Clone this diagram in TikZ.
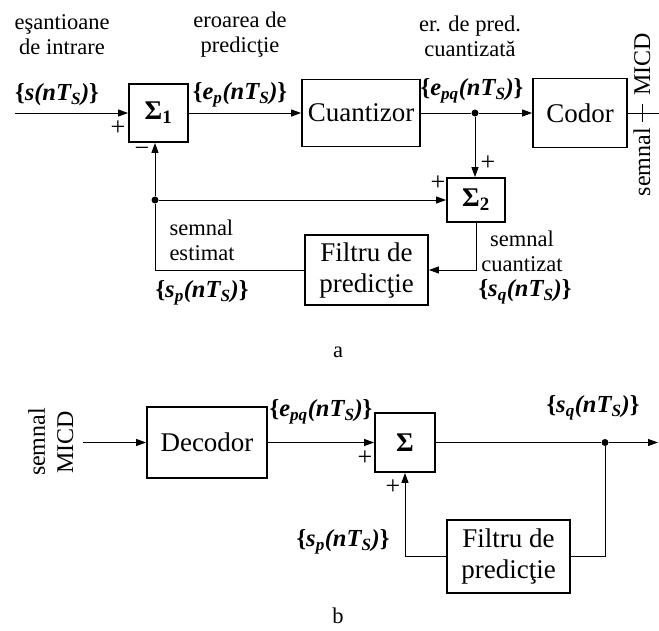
\documentclass[tikz,border=0pt]{standalone}
\usepackage{fontspec}
\setmainfont{Liberation Serif}
\usetikzlibrary{arrows.meta}
\newcommand\lab[1]{\textbf{\{\textit{#1}\}}}
\begin{document}
\begin{tikzpicture}[x=1pt,y=-1pt,
  blk/.style={draw,line width=1.8pt,inner sep=0pt,font=\fontsize{27}{31}\selectfont,align=center},
  sumblk/.style={blk,font=\fontsize{27}{31}\selectfont\bfseries},
  lbl/.style={font=\fontsize{22.5}{25}\selectfont,inner sep=0pt,align=center},
  mlbl/.style={font=\fontsize{24.5}{28}\selectfont,inner sep=0pt},
  sgn/.style={font=\fontsize{26}{28}\selectfont,inner sep=0pt},
  rot/.style={rotate=90,font=\fontsize{24}{28}\selectfont,inner sep=0pt},
  conn/.style={line width=1pt,-{Triangle[length=10pt,width=7pt]}},
  wire/.style={line width=1pt},
  dot/.style={circle,fill,inner sep=0pt,minimum size=7pt},
]
\useasboundingbox (0,0) rectangle (659,630);

% ---------- part a ----------
\node[sumblk,minimum width=59pt,minimum height=58pt] (S1) at (158.5,113) {Σ\textsubscript{1}};
\node[blk,minimum width=118pt,minimum height=67pt] (Q) at (361,113) {Cuantizor};
\node[blk,minimum width=94pt,minimum height=69pt] (C) at (580,113) {Codor};
\node[sumblk,minimum width=58pt,minimum height=44pt] (S2) at (476,200) {Σ\textsubscript{2}};
\node[blk,minimum width=123pt,minimum height=70pt] (F1) at (366.5,270) {Filtru de\\predicţie};
\node[dot] (d1) at (475,113) {};
\node[dot] (d2) at (155,200) {};
\coordinate (in) at (15,113);
\coordinate (out) at (659,113);
\coordinate (t1) at (642,104);
\coordinate (t2) at (642,122);

\draw[conn] (in) -- (S1.west);
\draw[conn] (S1.east) -- (Q.west);
\draw[wire] (Q.east) -- (d1);
\draw[conn] (d1) -- (C.west);
\draw[wire] (C.east) -- (out);
\draw[conn] (d1) -- (d1 |- S2.north);
\draw[conn] (d2) -- (S2.west);
\draw[conn,line width=0.8pt] (S2.south) |- (F1.east);
\draw[wire,line width=0.8pt] (F1.west) -| (d2);
\draw[conn] (d2) -- (d2 |- S1.south);
\draw[wire,line width=0.8pt] (t1) -- (t2);

\node[lbl] (l1) at (62,34.5) {eşantioane\\de intrare};
\node[lbl] (l2) at (240,34.5) {eroarea de\\predicţie};
\node[lbl] (l3) at (470,36) {er. de pred.\\cuantizată};
\node[mlbl] (m1) at (57,95) {\lab{s(nT\textsubscript{S})}};
\node[mlbl] (m2) at (240,95) {\lab{e\textsubscript{p}(nT\textsubscript{S})}};
\node[mlbl] (m3) at (472,91) {\lab{e\textsubscript{pq}(nT\textsubscript{S})}};
\node[sgn] (p1) at (118,128) {+};
\node[sgn] (n1) at (142,152) {−};
\node[sgn] (p2) at (488,163) {+};
\node[sgn] (p3) at (438,183) {+};
\node[lbl,align=left] (l4) at (202,240) {semnal\\estimat};
\node[mlbl] (m4) at (202,293) {\lab{s\textsubscript{p}(nT\textsubscript{S})}};
\node[lbl] (l5) at (522,251) {semnal\\cuantizat};
\node[mlbl] (m5) at (525,292) {\lab{s\textsubscript{q}(nT\textsubscript{S})}};
\node[rot,anchor=base west] (r1) at (650,96) {MICD};
\node[rot,anchor=base east] (r2) at (650,128) {semnal};
\node[lbl] (ca) at (338,352) {a};

% ---------- part b ----------
\node[blk,minimum width=120pt,minimum height=71pt] (D) at (207,442.5) {Decodor};
\node[sumblk,minimum width=60pt,minimum height=59pt] (S) at (405,442.5) {Σ};
\node[blk,minimum width=123pt,minimum height=73pt] (F2) at (508.5,556.5) {Filtru de\\predicţie};
\node[dot] (d3) at (605,442.5) {};
\coordinate (inb) at (83,442.5);
\coordinate (outb) at (658,442.5);

\draw[conn] (inb) -- (D.west);
\draw[conn] (D.east) -- (S.west);
\draw[wire] (S.east) -- (d3);
\draw[conn] (d3) -- (outb);
\draw[wire] (d3) |- (F2.east);
\draw[conn] (F2.west) -| (S.south);

\node[rot,anchor=base] (r3) at (45,442) {semnal};
\node[rot,anchor=base] (r4) at (73,442) {MICD};
\node[mlbl] (m6) at (321,412) {\lab{e\textsubscript{pq}(nT\textsubscript{S})}};
\node[mlbl] (m7) at (593,408) {\lab{s\textsubscript{q}(nT\textsubscript{S})}};
\node[mlbl] (m8) at (343,542) {\lab{s\textsubscript{p}(nT\textsubscript{S})}};
\node[sgn] (p4) at (365,458) {+};
\node[sgn] (p5) at (393,487) {+};
\node[lbl] (cb) at (338,616) {b};
\end{tikzpicture}
\end{document}
